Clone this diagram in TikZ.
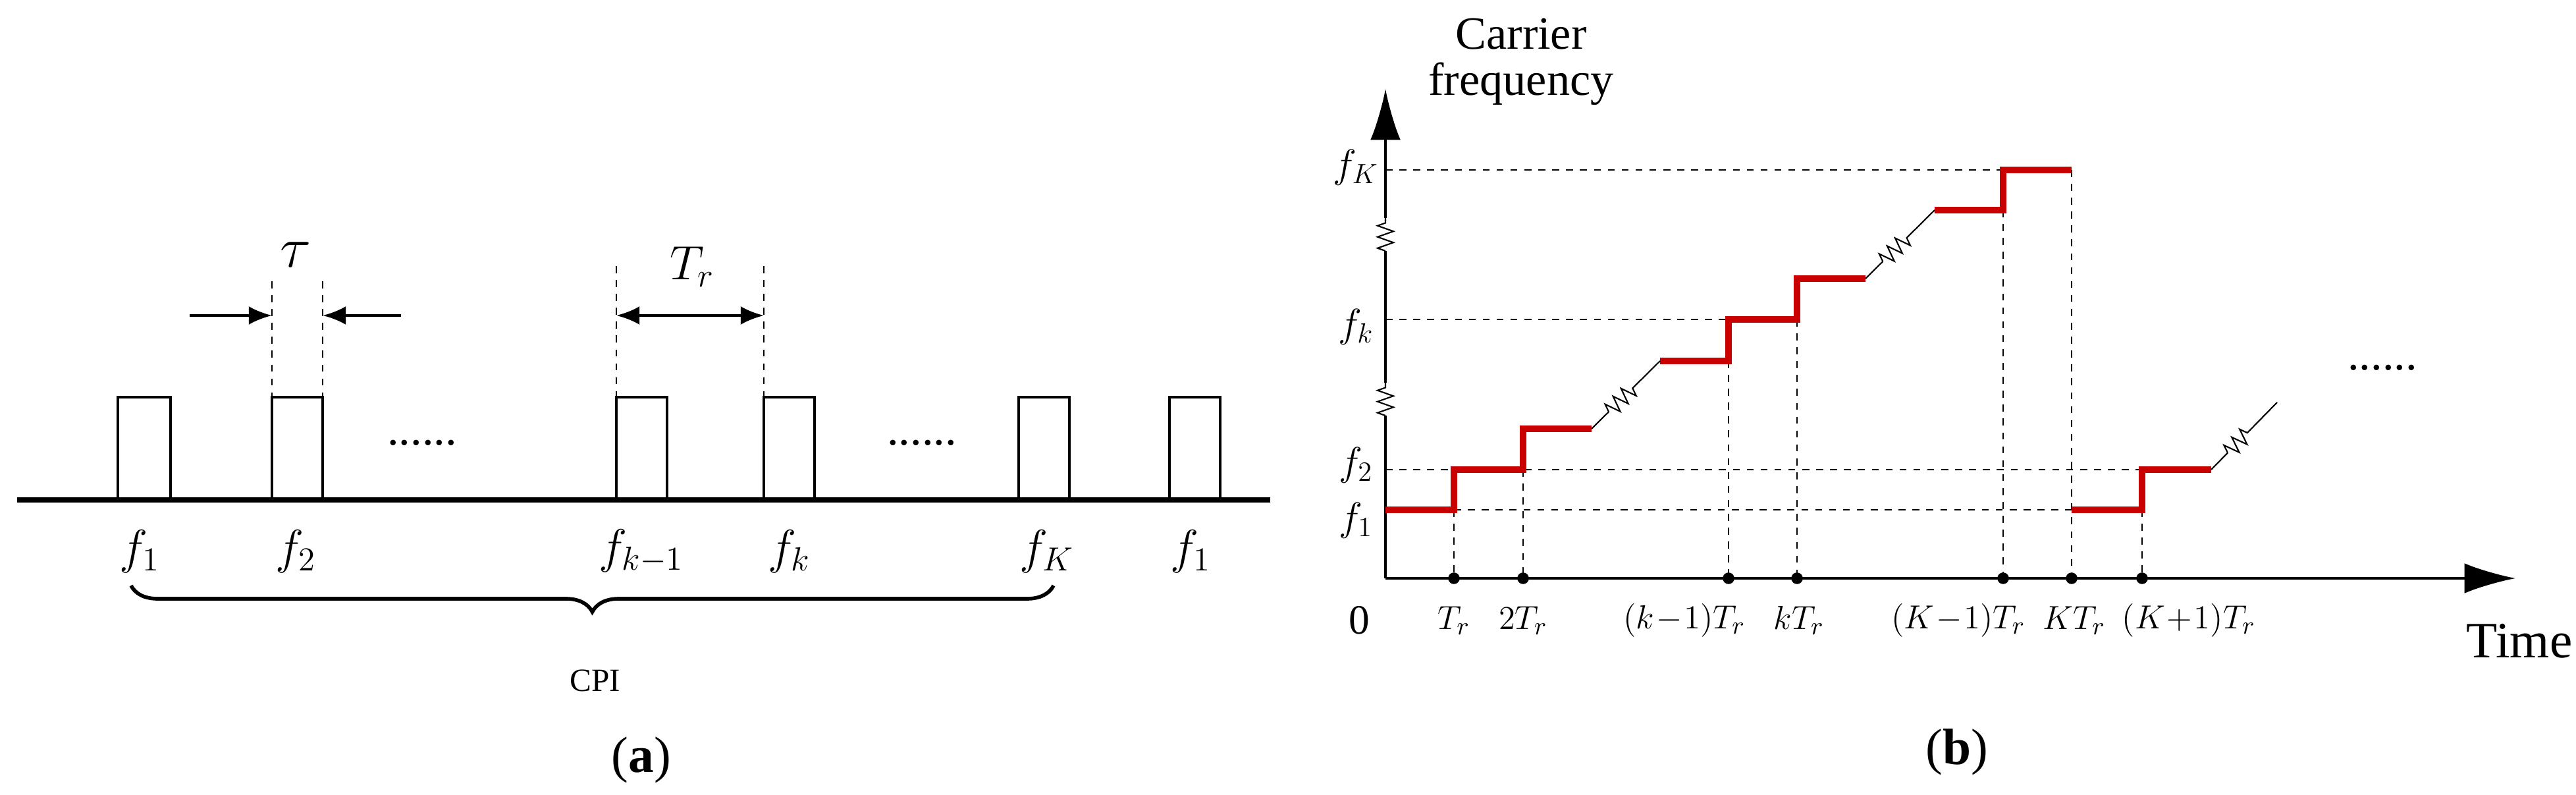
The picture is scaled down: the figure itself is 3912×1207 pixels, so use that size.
\documentclass[tikz,border=0pt]{standalone}
\usepackage{fontspec}
\setmainfont{Liberation Serif}
\usetikzlibrary{calc,decorations.pathreplacing,decorations.pathmorphing,arrows.meta}
\definecolor{stepred}{RGB}{200,0,0}
\newcommand{\fs}[1]{\fontsize{#1}{#1}\selectfont}
\newcommand{\mi}{\!-\!}
\newcommand{\pl}{\!+\!}
\begin{document}
\begin{tikzpicture}[x=0.01cm,y=-0.01cm,
    pulse/.style={draw,line width=1.4pt},
    base/.style={line width=2.4pt},
    guide/.style={dashed,line width=0.6pt},
    redstep/.style={stepred,line width=2.6pt},
    zz/.style={line width=0.6pt,decorate,decoration={zigzag,segment length=0.17cm,amplitude=0.12cm}},
    lab/.style={inner sep=0pt,font=\fs{20}},
    ylab/.style={inner sep=0pt,font=\fs{17}},
    xlab/.style={inner sep=0pt,font=\fs{15}},
    tick/.style={circle,fill,inner sep=0pt,minimum size=5pt}]
\useasboundingbox (0,0) rectangle (3912,1207);
% (a) pulse train
\draw[base] (26,759) coordinate (bl) -- (1929,759) coordinate (br);
\foreach \a/\b/\n in {179/259/p1,413/490/p2,936/1013/p3,1160/1237/p4,1547/1624/p5,1776/1853/p6}{
  \draw[pulse] (\a,759) |- (\b,603) coordinate (\n) -- (\b,759);
}
\node[lab] (d1) at (641,672) {......};
\node[lab] (d2) at (1400,672) {......};
\foreach \x/\t/\n in {212/{f_1}/fa,449/{f_2}/fb,974/{f_{k-1}}/fc,1199/{f_k}/fd,1590/{f_K}/fe,1808/{f_1}/ff}{
  \node[lab] (\n) at (\x,837) {$\t$};
}
\draw[line width=1.6pt,decorate,decoration={brace,mirror,amplitude=0.4cm}] (199,889) coordinate (ba) -- (1600,889) coordinate (bb);
\node[font=\fs{14}] (cpi) at (904,1033) {CPI};
\node[font=\fs{22}] (capa) at (974,1154) {(\textbf{a})};
% tau and T_r
\coordinate (t1) at (413,427); \coordinate (t2) at (490,427);
\draw[guide] (t1) -- (413,603); \draw[guide] (t2) -- (490,603);
\coordinate (ta) at (288,479); \coordinate (tb) at (609,479);
\draw[line width=1.2pt,-{Latex[length=10pt,width=8pt]}] (ta) -- (413,479);
\draw[line width=1.2pt,-{Latex[length=10pt,width=8pt]}] (tb) -- (490,479);
\node[lab,font=\fs{24}] (tau) at (449,387) {$\tau$};
\coordinate (r1) at (936,404); \coordinate (r2) at (1160,404);
\draw[guide] (r1) -- (936,603); \draw[guide] (r2) -- (1160,603);
\draw[line width=1.2pt,{Latex[length=10pt,width=8pt]}-{Latex[length=10pt,width=8pt]}] (936,479) -- (1160,479);
\node[lab] (tr) at (1051,405) {$T_r$};
% (b) axes
\coordinate (o) at (2104,878);
\draw[line width=1pt] (o) -- (2104,631) coordinate (z1);
\draw[zz] (z1) -- (2104,581) coordinate (z2);
\draw[line width=1pt] (z2) -- (2104,381) coordinate (z3);
\draw[zz] (z3) -- (2104,331) coordinate (z4);
\draw[line width=1pt,-{Latex[length=22pt,width=13pt]}] (z4) -- (2104,135);
\draw[line width=1pt,-{Latex[length=22pt,width=13pt]}] (o) -- (3820,878);
\node[font=\fs{20},align=center] (cf) at (2310,94) {Carrier\\frequency};
\node[font=\fs{22}] (time) at (3826,973) {Time};
\node[font=\fs{18}] (zero) at (2064,942) {0};
\node[font=\fs{22}] (capb) at (2972,1142) {(\textbf{b})};
% guides
\draw[guide] (2104,258) -- (3146,258);
\draw[guide] (2104,485) -- (2729,485);
\draw[guide] (2104,713) -- (3253,713);
\draw[guide] (2208,774) -- (3146,774);
\foreach \x/\y/\n in {2208/774/k1,2313/713/k2,2625/548/k3,2729/485/k4,3042/319/k5,3146/258/k6,3253/774/k7}{
  \draw[guide] (\x,\y) -- (\x,878);
  \node[tick] (\n) at (\x,878) {};
}
% red staircase
\draw[redstep] (2104,774) -| (2208,713) -| (2313,651) -- (2417,651) coordinate (s1);
\draw[redstep] (2521,548) coordinate (s2) -| (2625,485) -| (2729,423) -- (2833,423) coordinate (s3);
\draw[redstep] (2938,319) coordinate (s4) -| (3042,258) -- (3146,258);
\draw[redstep] (3146,774) -| (3253,713) -- (3358,713) coordinate (s5);
\coordinate (s6) at (3458,611);
\foreach \p/\q in {s1/s2,s3/s4,s5/s6}{
  \draw[line width=0.6pt] (\p) -- ($(\p)!0.25!(\q)$);
  \draw[zz] ($(\p)!0.25!(\q)$) -- ($(\p)!0.6!(\q)$);
  \draw[line width=0.6pt] ($(\p)!0.6!(\q)$) -- (\q);
}
\node[lab] (dots) at (3618,558) {......};
% labels
\foreach \y/\t/\n in {254/{f_K}/lK,496/{f_k}/lk,706/{f_2}/l2,790/{f_1}/l1}{
  \node[ylab] (\n) at (2059,\y) {$\t$};
}
\foreach \x/\t/\n in {2208/{T_r}/x1,2313/{2T_r}/x2,2558/{(k\mi1)T_r}/x3,2732/{kT_r}/x4,2974/{(K\mi1)T_r}/x5,3150/{KT_r}/x6,3324/{(K\pl1)T_r}/x7}{
  \node[xlab] (\n) at (\x,942) {$\t$};
}
\end{tikzpicture}
\end{document}
